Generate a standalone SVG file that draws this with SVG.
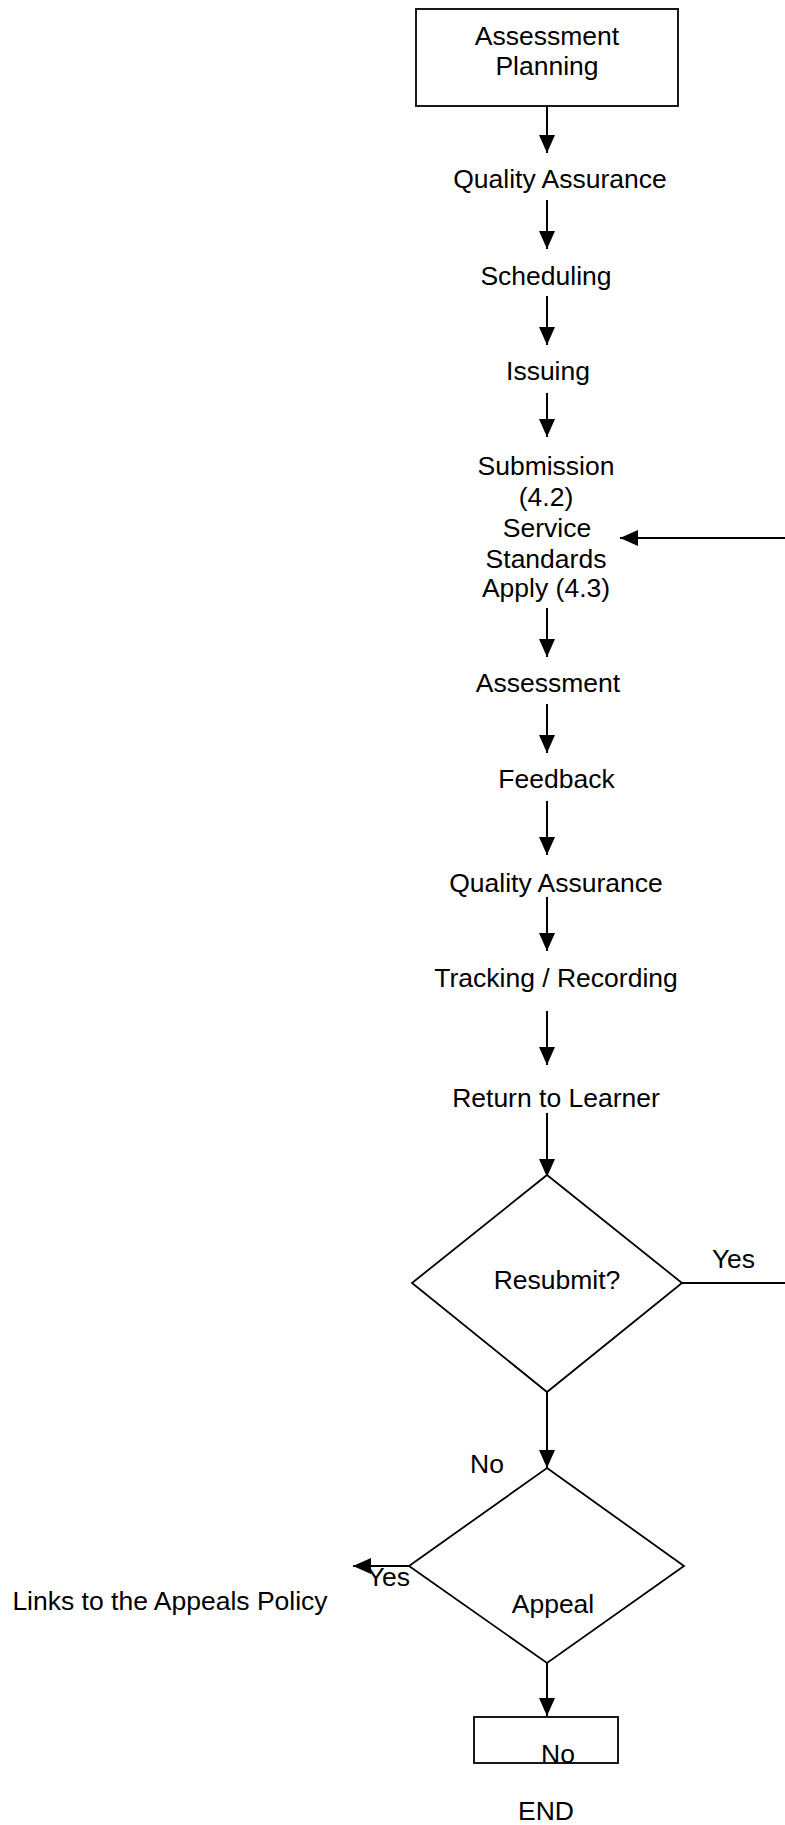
<svg xmlns="http://www.w3.org/2000/svg" width="785" height="1825" viewBox="0 0 785 1825">
<style>
text{font-family:"Liberation Sans",Arial,sans-serif;font-size:26.5px;fill:#000;text-anchor:middle}
.shape{fill:#fff;stroke:#000;stroke-width:1.8}
.conn{stroke:#000;stroke-width:2;fill:none}
.arr{marker-end:url(#ah)}
</style>
<defs>
<marker id="ah" viewBox="0 0 18 16" refX="18" refY="8" markerWidth="18" markerHeight="16" markerUnits="userSpaceOnUse" orient="auto">
<path d="M0,0 L18,8 L0,16 z" fill="#000"/>
</marker>
</defs>
<rect width="785" height="1825" fill="#fff"/>
<g id="connectors">
<line class="conn arr" x1="547" y1="106" x2="547" y2="153"/>
<line class="conn arr" x1="547" y1="200" x2="547" y2="249"/>
<line class="conn arr" x1="547" y1="296" x2="547" y2="345"/>
<line class="conn arr" x1="547" y1="393" x2="547" y2="437"/>
<line class="conn arr" x1="547" y1="608" x2="547" y2="657"/>
<line class="conn arr" x1="547" y1="704" x2="547" y2="753"/>
<line class="conn arr" x1="547" y1="801" x2="547" y2="855"/>
<line class="conn arr" x1="547" y1="897" x2="547" y2="951"/>
<line class="conn arr" x1="547" y1="1011" x2="547" y2="1065"/>
<line class="conn arr" x1="547" y1="1113" x2="547" y2="1177"/>
<line class="conn arr" x1="547" y1="1392" x2="547" y2="1468"/>
<line class="conn arr" x1="547" y1="1663" x2="547" y2="1716"/>
<line class="conn arr" x1="785" y1="538" x2="620" y2="538"/>
<line class="conn" x1="682" y1="1283" x2="785" y2="1283"/>
<line class="conn arr" x1="409" y1="1566" x2="353" y2="1566"/>
<text x="733.5" y="1268">Yes</text>
<text x="487" y="1473">No</text>
<text x="388.5" y="1586">Yes</text>
</g>
<g id="assessment-planning">
<rect class="shape" x="416" y="9" width="262" height="97"/>
<text x="547" y="45">Assessment</text>
<text x="547" y="75">Planning</text>
</g>
<g id="quality-assurance-1"><text x="560" y="188">Quality Assurance</text></g>
<g id="scheduling"><text x="546" y="285">Scheduling</text></g>
<g id="issuing"><text x="548" y="380">Issuing</text></g>
<g id="submission">
<text x="546" y="475">Submission</text>
<text x="546" y="506">(4.2)</text>
<text x="547" y="537">Service</text>
<text x="546" y="568">Standards</text>
<text x="546" y="597">Apply (4.3)</text>
</g>
<g id="assessment"><text x="548" y="692">Assessment</text></g>
<g id="feedback"><text x="556.5" y="788">Feedback</text></g>
<g id="quality-assurance-2"><text x="556" y="892">Quality Assurance</text></g>
<g id="tracking"><text x="556" y="987">Tracking / Recording</text></g>
<g id="return"><text x="556" y="1107">Return to Learner</text></g>
<g id="resubmit">
<polygon class="shape" points="547,1175 682,1283 547,1392 412,1283"/>
<text x="557" y="1289">Resubmit?</text>
</g>
<g id="appeal">
<polygon class="shape" points="547,1468 684,1566 547,1663 409,1566"/>
<text x="553" y="1613">Appeal</text>
</g>
<g id="appeals-policy"><text x="170" y="1610">Links to the Appeals Policy</text></g>
<g id="no-box">
<rect class="shape" x="474" y="1717" width="144" height="46"/>
<text x="558" y="1763">No</text>
</g>
<g id="end"><text x="546" y="1820">END</text></g>
</svg>
